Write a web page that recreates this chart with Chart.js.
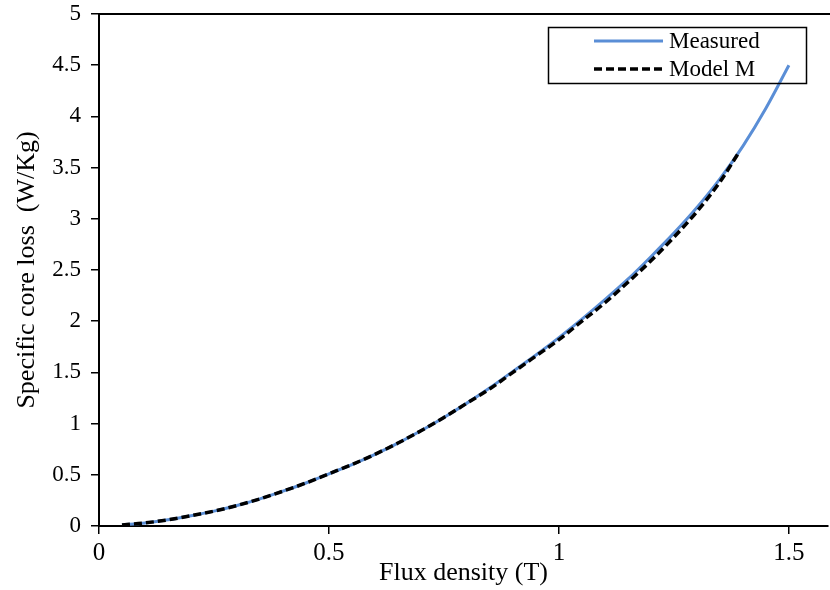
<!DOCTYPE html>
<html>
<head>
<meta charset="utf-8">
<script src="https://cdn.jsdelivr.net/npm/chart.js@4"></script>
<style>
  html, body { margin: 0; padding: 0; background: #fff; }
  #wrap { width: 830px; height: 590px; }
</style>
</head>
<body>
<div id="wrap"><canvas id="lossChart" width="830" height="590"></canvas></div>
<script>
// flux density (T) and specific core loss (W/Kg)
const fluxMeasured = [0.05, 0.1, 0.15, 0.2, 0.25, 0.3, 0.35, 0.4, 0.45, 0.5, 0.55, 0.6, 0.65, 0.7, 0.75,
  0.8, 0.85, 0.9, 0.95, 1.0, 1.05, 1.1, 1.15, 1.2, 1.25, 1.3, 1.35, 1.4, 1.45, 1.5];
const lossMeasured = [0.01, 0.03, 0.06, 0.10, 0.145, 0.20, 0.265, 0.34, 0.42, 0.51, 0.60, 0.70, 0.81, 0.93, 1.06,
  1.20, 1.35, 1.51, 1.67, 1.84, 2.02, 2.21, 2.41, 2.63, 2.86, 3.11, 3.39, 3.71, 4.08, 4.50];

const fluxModel = [0.05, 0.1, 0.15, 0.2, 0.25, 0.3, 0.35, 0.4, 0.45, 0.5, 0.55, 0.6, 0.65, 0.7, 0.75,
  0.8, 0.85, 0.9, 0.95, 1.0, 1.05, 1.1, 1.15, 1.2, 1.25, 1.3, 1.35, 1.39];
const lossModel = [0.01, 0.03, 0.06, 0.10, 0.145, 0.20, 0.265, 0.34, 0.42, 0.51, 0.60, 0.70, 0.81, 0.93, 1.06,
  1.20, 1.34, 1.50, 1.66, 1.82, 2.00, 2.18, 2.38, 2.59, 2.82, 3.07, 3.36, 3.64];

const xTicks = [0, 0.5, 1, 1.5];
const seriesNames = ["Measured", "Model M"];

const serif = "'Liberation Serif', 'Times New Roman', serif";

const toPoints = (xs, ys) => xs.map((x, i) => ({ x: x, y: ys[i] }));
const fmt = (v) => String(Number(v.toFixed(2)));

// top frame line + boxed legend
const framePlugin = {
  id: "frame",
  afterDraw(chart) {
    const ctx = chart.ctx;
    const area = chart.chartArea;
    ctx.save();
    ctx.strokeStyle = "#000";
    ctx.lineWidth = 2;
    ctx.beginPath();
    ctx.moveTo(area.left, area.top);
    ctx.lineTo(chart.width, area.top);
    ctx.stroke();

    // legend box
    ctx.lineWidth = 1.5;
    ctx.strokeRect(548.5, 27.5, 258, 56);
    const rows = [chart.data.datasets[1], chart.data.datasets[0]];
    ctx.font = "23px " + serif;
    ctx.textBaseline = "middle";
    ctx.fillStyle = "#000";
    rows.forEach((ds, i) => {
      const y = 41 + i * 28;
      ctx.strokeStyle = ds.borderColor;
      ctx.lineWidth = ds.borderWidth;
      ctx.setLineDash(ds.borderDash || []);
      ctx.beginPath();
      ctx.moveTo(594, y);
      ctx.lineTo(663, y);
      ctx.stroke();
      ctx.setLineDash([]);
      ctx.fillText(ds.label, 669, y + 1);
    });
    ctx.restore();
  }
};

new Chart(document.getElementById("lossChart"), {
  type: "line",
  data: {
    datasets: [
      {
        label: seriesNames[1],
        data: toPoints(fluxModel, lossModel),
        borderColor: "#000000",
        borderWidth: 3.5,
        borderDash: [8, 4],
        pointRadius: 0,
        cubicInterpolationMode: "monotone",
        fill: false
      },
      {
        label: seriesNames[0],
        data: toPoints(fluxMeasured, lossMeasured),
        borderColor: "#5a8ed6",
        borderWidth: 3,
        pointRadius: 0,
        cubicInterpolationMode: "monotone",
        fill: false
      }
    ]
  },
  options: {
    responsive: false,
    animation: false,
    layout: { padding: { top: 14, right: 2, left: 0, bottom: 0 } },
    plugins: {
      legend: { display: false },
      tooltip: { enabled: false }
    },
    scales: {
      x: {
        type: "linear",
        min: 0,
        max: 1.585,
        afterBuildTicks: (scale) => {
          scale.ticks = xTicks.map(v => ({ value: v }));
        },
        afterFit: (scale) => {
          scale.height = 64;
          scale.paddingLeft = 0;
          scale.paddingRight = 0;
        },
        grid: { drawOnChartArea: false, drawTicks: true, tickLength: 8, color: "#000", lineWidth: 1.5 },
        border: { color: "#000", width: 2 },
        ticks: {
          color: "#000",
          padding: 4,
          maxRotation: 0,
          callback: fmt,
          font: { family: serif, size: 25 }
        },
        title: {
          display: true,
          text: "Flux density (T)",
          color: "#000",
          font: { family: serif, size: 26 },
          padding: { top: 0, bottom: 1 }
        }
      },
      y: {
        min: 0,
        max: 5,
        afterFit: (scale) => {
          scale.width = 99;
          scale.paddingTop = 0;
          scale.paddingBottom = 0;
        },
        grid: { drawOnChartArea: false, drawTicks: true, tickLength: 8, color: "#000", lineWidth: 1.5 },
        border: { color: "#000", width: 2 },
        ticks: {
          stepSize: 0.5,
          color: "#000",
          padding: 10,
          callback: fmt,
          font: { family: serif, size: 23 }
        },
        title: {
          display: true,
          text: "Specific core loss  (W/Kg)",
          color: "#000",
          font: { family: serif, size: 26 },
          padding: { top: 12, bottom: 0 }
        }
      }
    }
  },
  plugins: [framePlugin]
});
</script>
</body>
</html>
